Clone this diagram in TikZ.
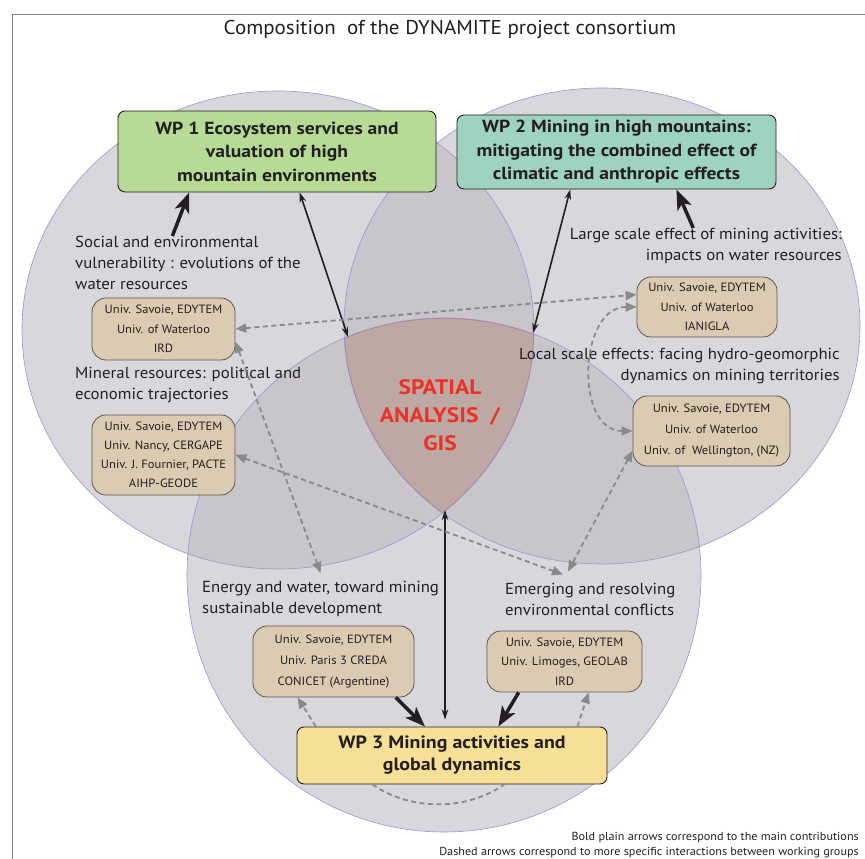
\documentclass[tikz,border=0pt]{standalone}
\usepackage{fontspec}
\setmainfont{PT Sans}[FakeStretch=1.05]
\newfontfamily\wpfont{PT Sans}[FakeStretch=1.12]
\usepackage{xcolor}
\definecolor{dyntext}{RGB}{35,31,32}
\definecolor{framegray}{RGB}{130,130,130}
\definecolor{venngray}{RGB}{189,187,193}
\definecolor{vennline}{RGB}{150,150,215}
\definecolor{gisfill}{RGB}{190,168,163}
\definecolor{gisline}{RGB}{205,95,95}
\definecolor{gisred}{RGB}{236,50,38}
\definecolor{wpgreen}{RGB}{183,219,150}
\definecolor{wpteal}{RGB}{158,212,191}
\definecolor{wpyellow}{RGB}{246,223,150}
\definecolor{unitan}{RGB}{219,203,178}
\definecolor{unibrd}{RGB}{95,85,75}
\definecolor{dashgray}{RGB}{138,138,138}
\usepackage{tikz}
\usetikzlibrary{arrows.meta, positioning, calc}

\tikzset{
  wpbox/.style={draw=dyntext, line width=0.9pt, rounded corners=7pt, inner sep=0pt,
    align=center, text=dyntext, font={\wpfont\bfseries\fontsize{17.5}{23.5}\selectfont}},
  unibox/.style={draw=unibrd, fill=unitan, line width=0.8pt, rounded corners=14pt,
    inner sep=0pt, align=center, text=dyntext, font={\fontsize{12}{19.5}\selectfont}},
  themelbl/.style={inner sep=0pt, text=dyntext, font={\fontsize{16}{21}\selectfont}},
  gistext/.style={inner sep=0pt, align=center, text=gisred, font={\wpfont\bfseries\fontsize{21}{28}\selectfont}},
  mainarrow/.style={-{Stealth[length=20pt,width=15pt,inset=5pt]}, line width=3.5pt, draw=dyntext},
  linkarrow/.style={{Stealth[length=10pt,width=6.5pt]}-{Stealth[length=10pt,width=6.5pt]},
    line width=1.6pt, draw=dyntext},
  dasharrow/.style={line width=1.8pt, draw=dashgray, dash pattern=on 5pt off 3.5pt},
  dashtips/.style={{Triangle[length=11pt,width=9pt]}-{Triangle[length=11pt,width=9pt]}},
  dashtip/.style={-{Triangle[length=11pt,width=9pt]}},
}

\begin{document}
\begin{tikzpicture}[x=1pt,y=1pt]
      \useasboundingbox (0,0) rectangle (865,859);

      % Frame and title
      \draw[framegray, line width=0.9pt] (12,0) -- (12,845) -- (865,845);
      \node[text=dyntext, font=\fontsize{20}{24}\selectfont] (title) at (450,829)
           {Composition\ \ of the DYNAMITE project consortium};

      % Work package discs
      \fill[venngray, fill opacity=0.59] (278,529) ellipse [x radius=256, y radius=239];
      \fill[venngray, fill opacity=0.59] (602,533) ellipse [x radius=258, y radius=238];
      \fill[venngray, fill opacity=0.59] (444,284) circle [radius=257];

      % Shared core
      \begin{scope}
        \clip (278,529) ellipse [x radius=256, y radius=239];
        \clip (602,533) ellipse [x radius=258, y radius=238];
        \clip (444,284) circle [radius=257];
        \fill[gisfill] (0,0) rectangle (865,859);
        \draw[gisline, line width=1pt] (278,529) ellipse [x radius=256, y radius=239];
        \draw[gisline, line width=1pt] (602,533) ellipse [x radius=258, y radius=238];
        \draw[gisline, line width=1pt] (444,284) circle [radius=257];
      \end{scope}
      \draw[vennline, line width=0.6pt] (278,529) ellipse [x radius=256, y radius=239];
      \draw[vennline, line width=0.6pt] (602,533) ellipse [x radius=258, y radius=238];
      \draw[vennline, line width=0.6pt] (444,284) circle [radius=257];
      \coordinate (gistl) at (348,522);
      \coordinate (gistr) at (533,526);
      \coordinate (gisbot) at (445,349);
      \node[gistext] (gis) at (440,444) {SPATIAL\\ANALYSIS\ \ /\\GIS};

      % Work packages
      \node[wpbox, fill=wpgreen, minimum width=318pt, minimum height=81pt] (wp1) at (277,707.5)
           {WP 1 Ecosystem services and\\valuation of high\\mountain environments};
      \node[wpbox, fill=wpteal, minimum width=319pt, minimum height=74pt] (wp2) at (616.5,707)
           {WP 2 Mining in high mountains:\\mitigating the combined effect of\\climatic and anthropic effects};
      \node[wpbox, fill=wpyellow, minimum width=310pt, minimum height=57pt,
            font={\wpfont\bfseries\fontsize{17.8}{22}\selectfont}] (wp3) at (452,103.5)
           {WP 3 Mining activities and\\global dynamics};

      % Themes
      \node[themelbl, anchor=west, align=left] (lblwater) at (75,596)
           {Social and environmental\\vulnerability : evolutions of the\\water resources};
      \node[themelbl, anchor=west, align=left] (lblmineral) at (75,473.5)
           {Mineral resources: political and\\economic trajectories};
      \node[themelbl, anchor=east, align=right] (lbllarge) at (842,613)
           {Large scale effect of mining activities:\\impacts on water resources};
      \node[themelbl, anchor=east, align=right] (lbllocal) at (840,493)
           {Local scale effects: facing hydro-geomorphic\\dynamics on mining territories};
      \node[themelbl, anchor=west, align=left] (lblenergy) at (202,260)
           {Energy and water, toward mining\\sustainable development};
      \node[themelbl, anchor=west, align=left] (lblconflict) at (505,260)
           {Emerging and resolving\\environmental conflicts};

      % Partners
      \node[unibox, minimum width=143pt, minimum height=62pt] (uniwater) at (163.5,530)
           {Univ. Savoie, EDYTEM\\Univ. of Waterloo\\IRD};
      \node[unibox, minimum width=143pt, minimum height=80pt, font={\fontsize{12}{19}\selectfont}]
           (unimineral) at (163.5,404)
           {Univ. Savoie, EDYTEM\\Univ. Nancy, CERGAPE\\Univ. J. Fournier, PACTE\\AIHP-GEODE};
      \node[unibox, minimum width=140pt, minimum height=60pt] (unilarge) at (707,552)
           {Univ. Savoie, EDYTEM\\Univ. of Waterloo\\IANIGLA};
      \node[unibox, minimum width=157pt, minimum height=70pt, font={\fontsize{12}{21}\selectfont}]
           (unilocal) at (711.5,428)
           {Univ. Savoie, EDYTEM\\Univ. of Waterloo\\Univ. of\ \ Wellington, (NZ)};
      \node[unibox, minimum width=161pt, minimum height=71pt, font={\fontsize{12}{21}\selectfont}]
           (unienergy) at (333.5,197.5)
           {Univ. Savoie, EDYTEM\\Univ. Paris 3 CREDA\\CONICET (Argentine)};
      \node[unibox, minimum width=155pt, minimum height=61pt] (uniconflict) at (564.5,197.5)
           {Univ. Savoie, EDYTEM\\Univ. Limoges, GEOLAB\\IRD};

      % Main contributions
      \draw[mainarrow] (lblwater.120) -- (wp1.-155);
      \draw[mainarrow] (lbllarge.125) -- (wp2.-32);
      \draw[mainarrow] (unienergy.-30) -- (wp3.133);
      \draw[mainarrow] (uniconflict.-146) -- (wp3.32);

      % Links with the spatial core
      \draw[linkarrow] (wp1.-61) -- (gistl);
      \draw[linkarrow] (wp2.-141) -- (gistr);
      \draw[linkarrow, shorten >=7pt] (gisbot) -- (gisbot |- wp3.north);

      % Specific interactions
      \draw[dasharrow, dashtips] (uniwater.east) -- (unilarge.170);
      \draw[dasharrow, dashtips] (uniwater.-10) -- ([yshift=8pt]lblenergy.north);
      \draw[dasharrow, dashtips] (unimineral.east) -- ([shift={(58,8)}]lblconflict.north west);
      \draw[dasharrow, dashtips] (unilocal.194) -- ([shift={(63,11)}]lblconflict.north west);
      \draw[dasharrow, dashtips] (unilarge.west) to[out=180, in=180, looseness=1.2] (unilocal.west);
      \draw[dasharrow, dashtip] (wp3.168) -- (unienergy.-135);
      \draw[dasharrow, dashtip] (wp3.13) -- (uniconflict.-52);
      \draw[dasharrow] (wp3.-160) to[out=-35, in=-145, looseness=0.9] (wp3.-29);

      % Legend
      \node[anchor=east, align=right, inner sep=0pt, text=dyntext,
            font=\fontsize{11.6}{15}\selectfont] (legend) at (859,13.5)
           {Bold plain arrows correspond to the main contributions\\
            Dashed arrows correspond to more specific interactions between working groups};
\end{tikzpicture}
\end{document}
